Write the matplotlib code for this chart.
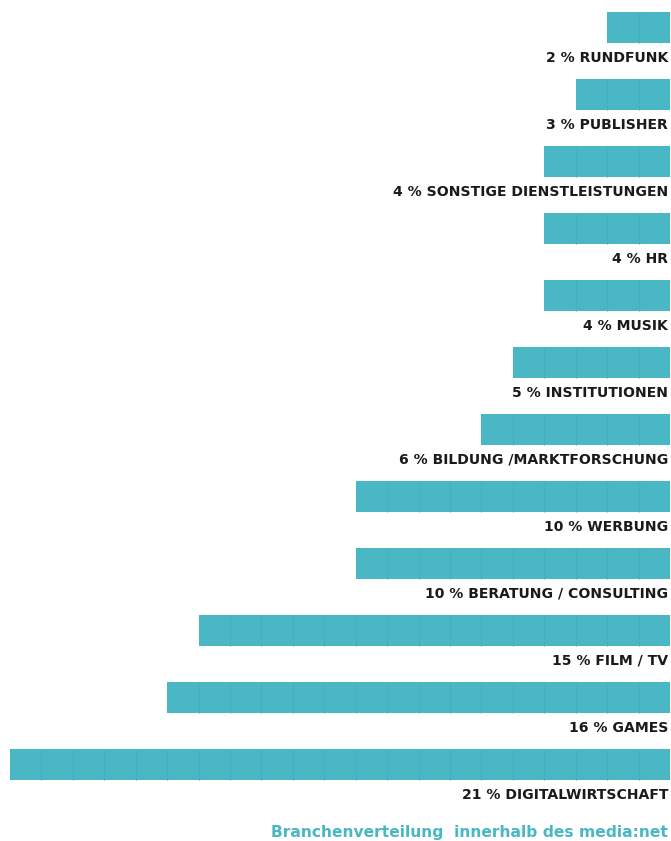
import matplotlib
matplotlib.use("Agg")
import matplotlib.pyplot as plt

categories = ["RUNDFUNK", "PUBLISHER", "SONSTIGE DIENSTLEISTUNGEN", "HR", "MUSIK",
              "INSTITUTIONEN", "BILDUNG /MARKTFORSCHUNG", "WERBUNG",
              "BERATUNG / CONSULTING", "FILM / TV", "GAMES", "DIGITALWIRTSCHAFT"]
values = [2, 3, 4, 4, 4, 5, 6, 10, 10, 15, 16, 21]
title = "Branchenverteilung  innerhalb des media:net"

BAR = "#4ab8c4"
SEG = "#43b2be"
TEXT = "#1a1a1a"

W, H = 671, 841
fig = plt.figure(figsize=(W / 100, H / 100), dpi=100)
ax = fig.add_axes([0, 0, 1, 1])
unit = 31.43
ax.set_xlim(670 / unit, -1 / unit)
pitch = 67.0
y0 = 27.5
ax.set_ylim((H - y0) / pitch, -y0 / pitch)
ax.axis("off")

bh = 31 / pitch
for i, (c, v) in enumerate(zip(categories, values)):
    ax.barh(i, v, left=0, height=bh, color=BAR, edgecolor="none")
    ax.vlines(range(1, v), i - bh / 2, i + bh / 2, color=SEG, linewidth=0.9)
    ax.text(0.06, i + 0.45, f"{v} % {c}", ha="right", va="center",
            fontsize=10.1, fontweight="bold", color=TEXT, family="DejaVu Sans")

ax.text(0.06, 12.01, title, ha="right", va="center", fontsize=11.2,
        fontweight="bold", color=BAR, family="DejaVu Sans")

fig.savefig("out.png", dpi=100)
